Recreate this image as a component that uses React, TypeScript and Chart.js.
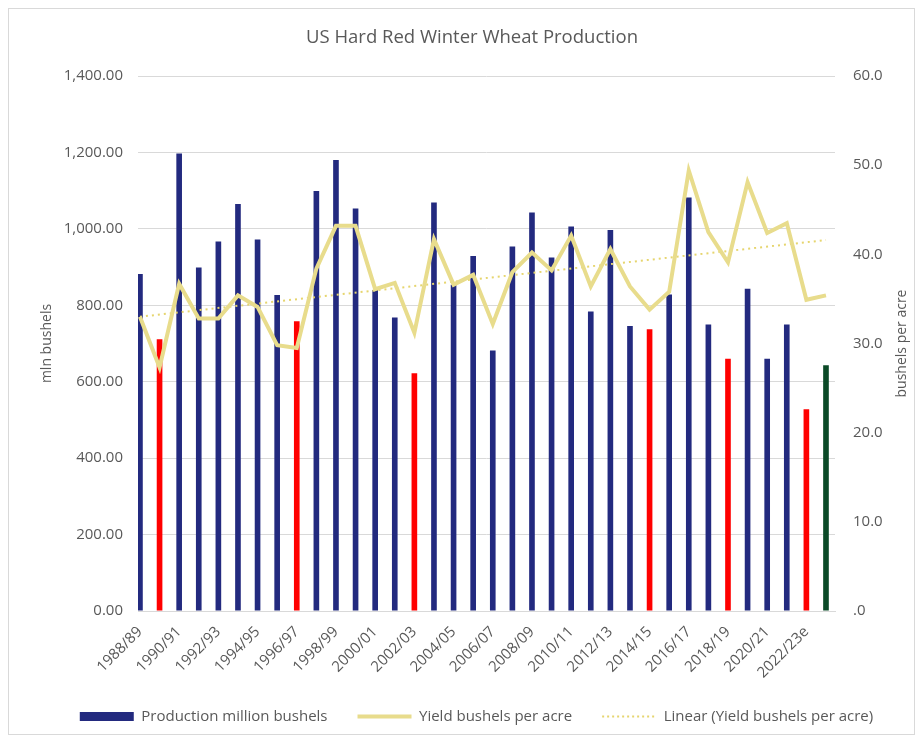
import React, { useEffect, useRef } from 'react';
import { Chart, registerables } from 'chart.js';

Chart.register(...registerables);

const categories = [
  '1988/89', '1989/90', '1990/91', '1991/92', '1992/93', '1993/94', '1994/95', '1995/96',
  '1996/97', '1997/98', '1998/99', '1999/00', '2000/01', '2001/02', '2002/03', '2003/04',
  '2004/05', '2005/06', '2006/07', '2007/08', '2008/09', '2009/10', '2010/11', '2011/12',
  '2012/13', '2013/14', '2014/15', '2015/16', '2016/17', '2017/18', '2018/19', '2019/20',
  '2020/21', '2021/22', '2022/23e', '2023/24f',
];

const production = [
  882, 711, 1197, 899, 967, 1065, 972, 827,
  758, 1099, 1180, 1053, 840, 768, 622, 1069,
  854, 929, 682, 954, 1043, 925, 1006, 784,
  997, 746, 737, 828, 1082, 750, 660, 843,
  660, 750, 528, 643,
];

const yieldPerAcre = [
  33.0, 27.3, 36.7, 32.8, 32.8, 35.4, 34.1, 29.8,
  29.5, 38.4, 43.2, 43.2, 36.1, 36.8, 31.2, 41.7,
  36.6, 37.7, 32.2, 38.0, 40.2, 38.2, 42.1, 36.4,
  40.6, 36.4, 33.8, 35.8, 49.4, 42.5, 39.1, 48.1,
  42.4, 43.5, 34.9, 35.4,
];

// Linear trendline end points
const trendStart = 33.0;
const trendEnd = 41.6;

const redYears = ['1989/90', '1996/97', '2002/03', '2014/15', '2018/19', '2022/23e'];
const greenYears = ['2023/24f'];

const leftTicks = [0, 200, 400, 600, 800, 1000, 1200, 1400];
const rightTicks = [0, 10, 20, 30, 40, 50, 60];

const chartTitle = 'US Hard Red Winter Wheat Production';

const NAVY = '#232a7f';
const RED = '#ff0000';
const GREEN = '#0b4a27';
const YELLOW = '#e8dc8c';
const TREND = '#e6d56e';
const TEXT = '#595959';
const GRID = '#d9d9d9';
const FONT = '"Open Sans", "Noto Sans", sans-serif';

const textPlugin = {
  id: 'extraText',
  afterLayout(chart: any) {
    if (chart.legend) {
      chart.legend.left += 15;
      chart.legend.right += 15;
    }
  },
  afterDraw(chart: any) {
    const { ctx, chartArea } = chart;
    ctx.save();
    ctx.font = `18.5px ${FONT}`;
    ctx.fillStyle = TEXT;
    ctx.textAlign = 'center';
    ctx.textBaseline = 'middle';
    ctx.fillText(chartTitle, 463, 29);
    ctx.translate(893, (chartArea.top + chartArea.bottom) / 2);
    ctx.rotate(-Math.PI / 2);
    ctx.font = `14px ${FONT}`;
    ctx.fillText('bushels per acre', 0, 0);
    ctx.restore();
  },
};

export default function App() {
  const canvasRef = useRef<HTMLCanvasElement | null>(null);

  useEffect(() => {
    if (!canvasRef.current) return;
    const barColors = categories.map((c) =>
      redYears.includes(c) ? RED : greenYears.includes(c) ? GREEN : NAVY
    );
    const trend = categories.map((_, i) =>
      i === 0 ? trendStart : i === categories.length - 1 ? trendEnd : null
    );

    const chart = new Chart(canvasRef.current, {
      type: 'bar',
      data: {
        labels: categories,
        datasets: [
          {
            type: 'line',
            label: 'Yield bushels per acre',
            data: yieldPerAcre,
            borderColor: YELLOW,
            backgroundColor: YELLOW,
            borderWidth: 4,
            pointRadius: 0,
            tension: 0,
            yAxisID: 'y1',
            order: 1,
          } as any,
          {
            type: 'line',
            label: 'Linear (Yield bushels per acre)',
            data: trend,
            borderColor: TREND,
            borderWidth: 2,
            borderDash: [2, 4],
            pointRadius: 0,
            spanGaps: true,
            yAxisID: 'y1',
            order: 2,
          } as any,
          {
            type: 'bar',
            label: 'Production million bushels',
            data: production,
            backgroundColor: barColors,
            borderWidth: 0,
            barPercentage: 0.36,
            categoryPercentage: 0.8,
            yAxisID: 'y',
            order: 3,
          } as any,
        ],
      },
      options: {
        animation: false,
        responsive: true,
        maintainAspectRatio: false,
        layout: { padding: { top: 67, left: 0, right: 0, bottom: 0 } },
        plugins: {
          title: { display: false },
          legend: {
            position: 'bottom',
            labels: {
              usePointStyle: true,
              pointStyleWidth: 54,
              boxHeight: 9,
              padding: 30,
              color: TEXT,
              font: { family: FONT, size: 15 },
              generateLabels: () => [
                {
                  text: 'Production million bushels',
                  fillStyle: NAVY,
                  strokeStyle: NAVY,
                  lineWidth: 0,
                  pointStyle: 'rect',
                  datasetIndex: 2,
                  fontColor: TEXT,
                  hidden: false,
                },
                {
                  text: 'Yield bushels per acre',
                  fillStyle: YELLOW,
                  strokeStyle: YELLOW,
                  lineWidth: 4,
                  pointStyle: 'line',
                  datasetIndex: 0,
                  fontColor: TEXT,
                  hidden: false,
                },
                {
                  text: 'Linear (Yield bushels per acre)',
                  fillStyle: TREND,
                  strokeStyle: TREND,
                  lineWidth: 2,
                  lineDash: [2, 3],
                  pointStyle: 'line',
                  datasetIndex: 1,
                  fontColor: TEXT,
                  hidden: false,
                },
              ] as any,
            },
          },
          tooltip: { enabled: false },
        },
        scales: {
          x: {
            offset: false,
            grid: { display: false },
            border: { color: GRID },
            afterFit: (s: any) => {
              s.height = 68;
            },
            afterBuildTicks: (s: any) => {
              s._startValue = -0.1;
              s._valueRange = categories.length - 1 + 0.56;
            },
            ticks: {
              autoSkip: false,
              minRotation: 45,
              maxRotation: 45,
              padding: 4,
              color: TEXT,
              font: { family: FONT, size: 15 },
              callback: (_v: any, i: number) => (i % 2 === 0 ? categories[i] : ''),
            },
          },
          y: {
            position: 'left',
            min: leftTicks[0],
            max: leftTicks[leftTicks.length - 1],
            grid: { color: GRID, drawTicks: false },
            border: { display: false },
            afterFit: (s: any) => {
              s.width = 129;
            },
            afterBuildTicks: (s: any) => {
              s.ticks = leftTicks.map((v) => ({ value: v }));
            },
            ticks: {
              padding: 15,
              color: TEXT,
              font: { family: FONT, size: 15 },
              callback: (v: any) =>
                Number(v).toLocaleString('en-US', { minimumFractionDigits: 2, maximumFractionDigits: 2 }),
            },
            title: {
              display: true,
              text: 'mln bushels',
              color: TEXT,
              font: { family: FONT, size: 14 },
              padding: { top: 30, bottom: 0 },
            },
          },
          y1: {
            position: 'right',
            min: rightTicks[0],
            max: rightTicks[rightTicks.length - 1],
            grid: { display: false, drawTicks: false },
            border: { display: false },
            afterFit: (s: any) => {
              s.width = 79;
            },
            afterBuildTicks: (s: any) => {
              s.ticks = rightTicks.map((v) => ({ value: v }));
            },
            ticks: {
              padding: 18,
              color: TEXT,
              font: { family: FONT, size: 15 },
              callback: (v: any) => (Number(v) === 0 ? '.0' : Number(v).toFixed(1)),
            },
          },
        },
      },
      plugins: [textPlugin],
    });
    return () => chart.destroy();
  }, []);

  return (
    <div
      style={{
        width: 907,
        height: 727,
        border: `1px solid ${GRID}`,
        boxSizing: 'border-box',
        background: '#fff',
      }}
    >
      <div style={{ position: 'relative', width: 905, height: 725 }}>
        <canvas ref={canvasRef} aria-label={chartTitle} />
      </div>
    </div>
  );
}
